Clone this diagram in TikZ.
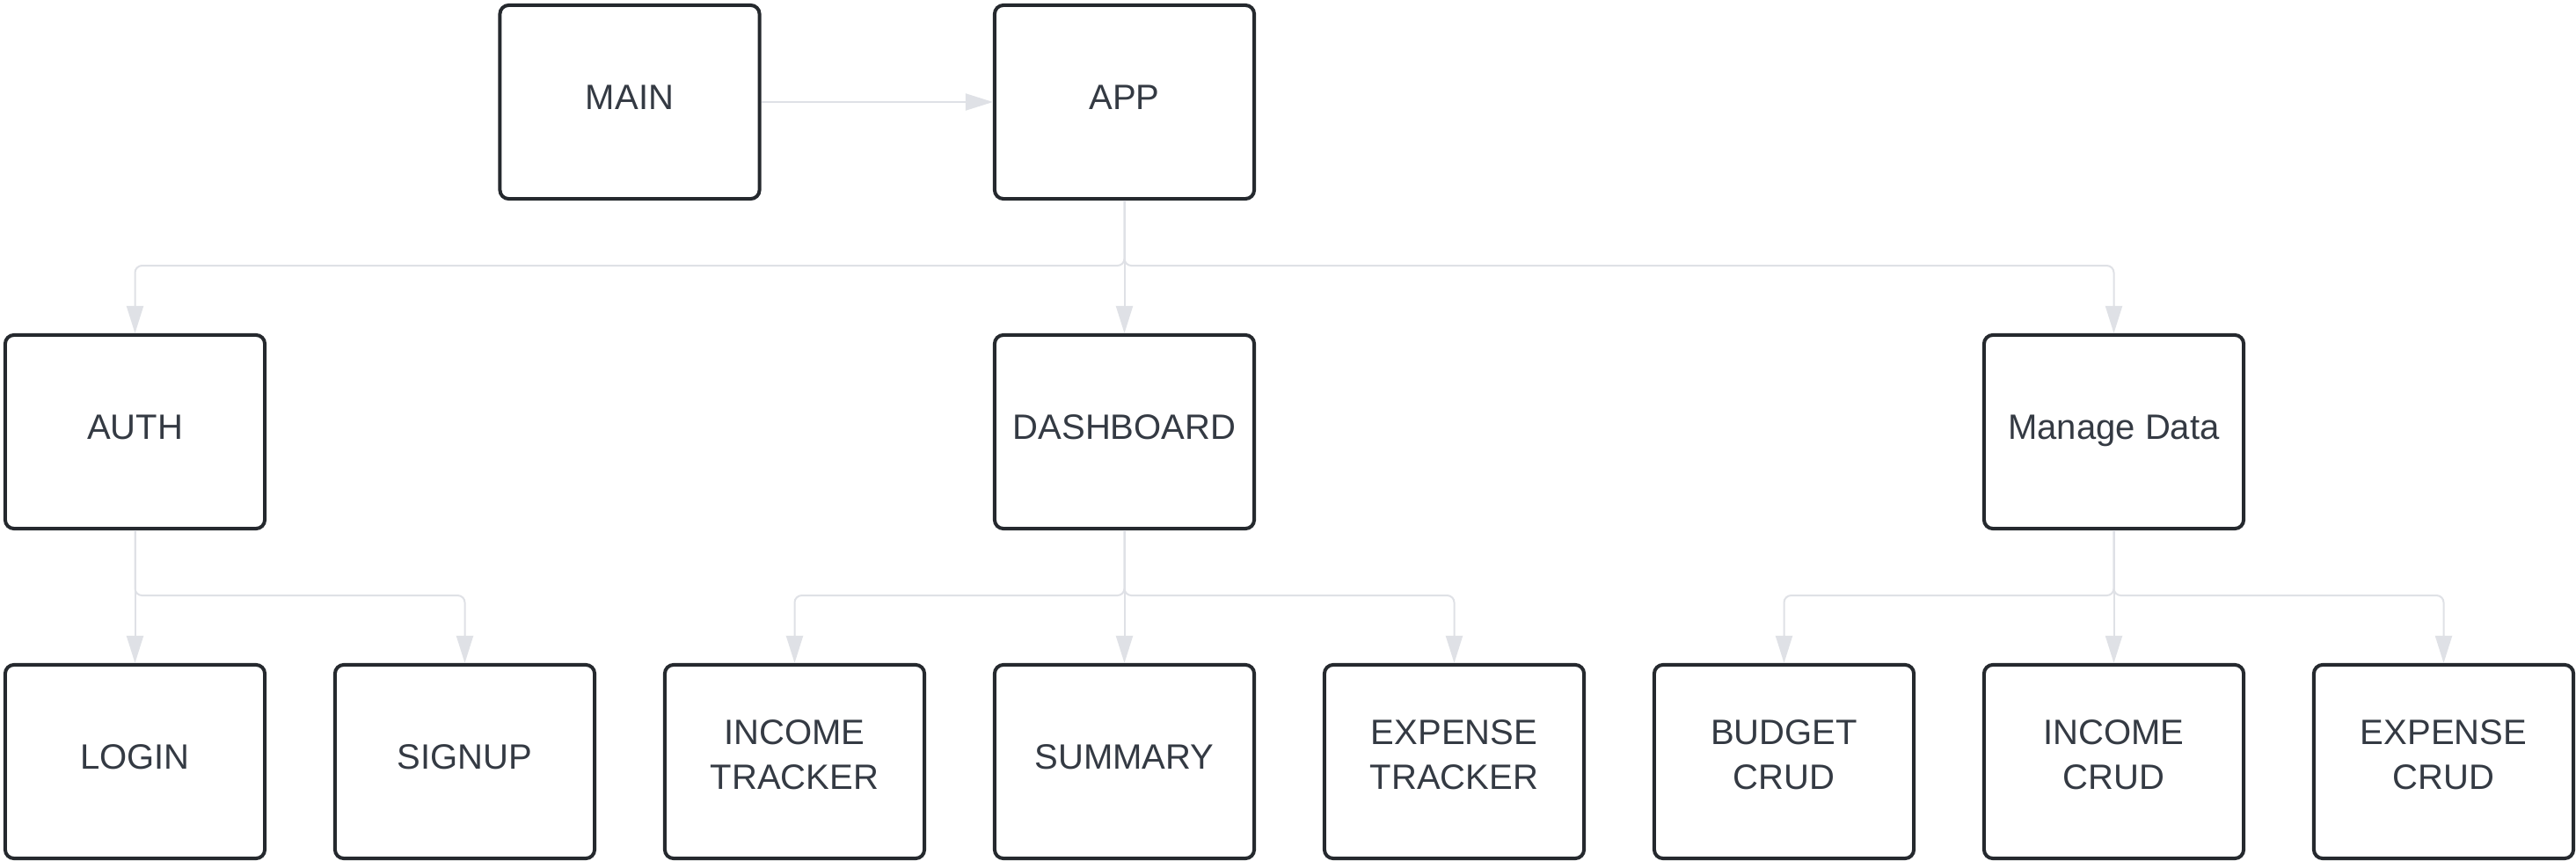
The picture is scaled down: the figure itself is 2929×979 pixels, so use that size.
\documentclass[tikz,border=0pt]{standalone}
\usepackage{fontspec}
\setmainfont{Liberation Sans}
\usetikzlibrary{arrows.meta}
\definecolor{txt}{HTML}{343A43}
\definecolor{edgec}{HTML}{DFE1E6}
\definecolor{bord}{HTML}{25292E}
\newcommand\boxtext[2]{\raisebox{#1}[0pt][0pt]{\begin{tabular}[t]{@{}c@{}}#2\end{tabular}}}
\newcommand\one[1]{\boxtext{-0.08cm}{#1}}
\newcommand\two[2]{\boxtext{0.19cm}{#1\\#2}}
\begin{document}
\begin{tikzpicture}[x=0.01cm,y=-0.01cm,
  box/.style={draw=bord, line width=0.04cm, rounded corners=0.1cm,
    minimum width=2.95cm, minimum height=2.2cm, inner sep=0pt,
    fill=white, text=txt, font=\fontsize{11.38pt}{14.23pt}\selectfont},
  conn/.style={draw=edgec, line width=0.02cm, rounded corners=0.08cm,
    -{Triangle[length=0.31cm,width=0.19cm,fill=edgec]}}]
\fill[white] (0,0) rectangle (2929,979);
\useasboundingbox (0,0) rectangle (2929,979);
% row 1
\node[box] (main) at (716,116) {\one{MAIN}};
\node[box] (app) at (1278.5,116) {\one{APP}};
% row 2
\node[box] (auth) at (153.5,491) {\one{AUTH}};
\node[box] (dash) at (1278.5,491) {\one{DASHBOARD}};
\node[box] (manage) at (2403.5,491) {\one{Manage Data}};
% row 3
\node[box] (login) at (153.5,866) {\one{LOGIN}};
\node[box] (signup) at (528.5,866) {\one{SIGNUP}};
\node[box] (inctr) at (903.5,866) {\two{INCOME}{TRACKER}};
\node[box] (summary) at (1278.5,866) {\one{SUMMARY}};
\node[box] (exptr) at (1653.5,866) {\two{EXPENSE}{TRACKER}};
\node[box] (budget) at (2028.5,866) {\two{BUDGET}{CRUD}};
\node[box] (inccrud) at (2403.5,866) {\two{INCOME}{CRUD}};
\node[box] (expcrud) at (2778.5,866) {\two{EXPENSE}{CRUD}};
% connectors
\draw[conn] (main.east) -- (app.west);
\draw[conn] (app.south) -- ++(0,74) -| (auth.north);
\draw[conn] (app.south) -- (dash.north);
\draw[conn] (app.south) -- ++(0,74) -| (manage.north);
\draw[conn] (auth.south) -- (login.north);
\draw[conn] (auth.south) -- ++(0,74) -| (signup.north);
\draw[conn] (dash.south) -- ++(0,74) -| (inctr.north);
\draw[conn] (dash.south) -- (summary.north);
\draw[conn] (dash.south) -- ++(0,74) -| (exptr.north);
\draw[conn] (manage.south) -- ++(0,74) -| (budget.north);
\draw[conn] (manage.south) -- (inccrud.north);
\draw[conn] (manage.south) -- ++(0,74) -| (expcrud.north);
\end{tikzpicture}
\end{document}
